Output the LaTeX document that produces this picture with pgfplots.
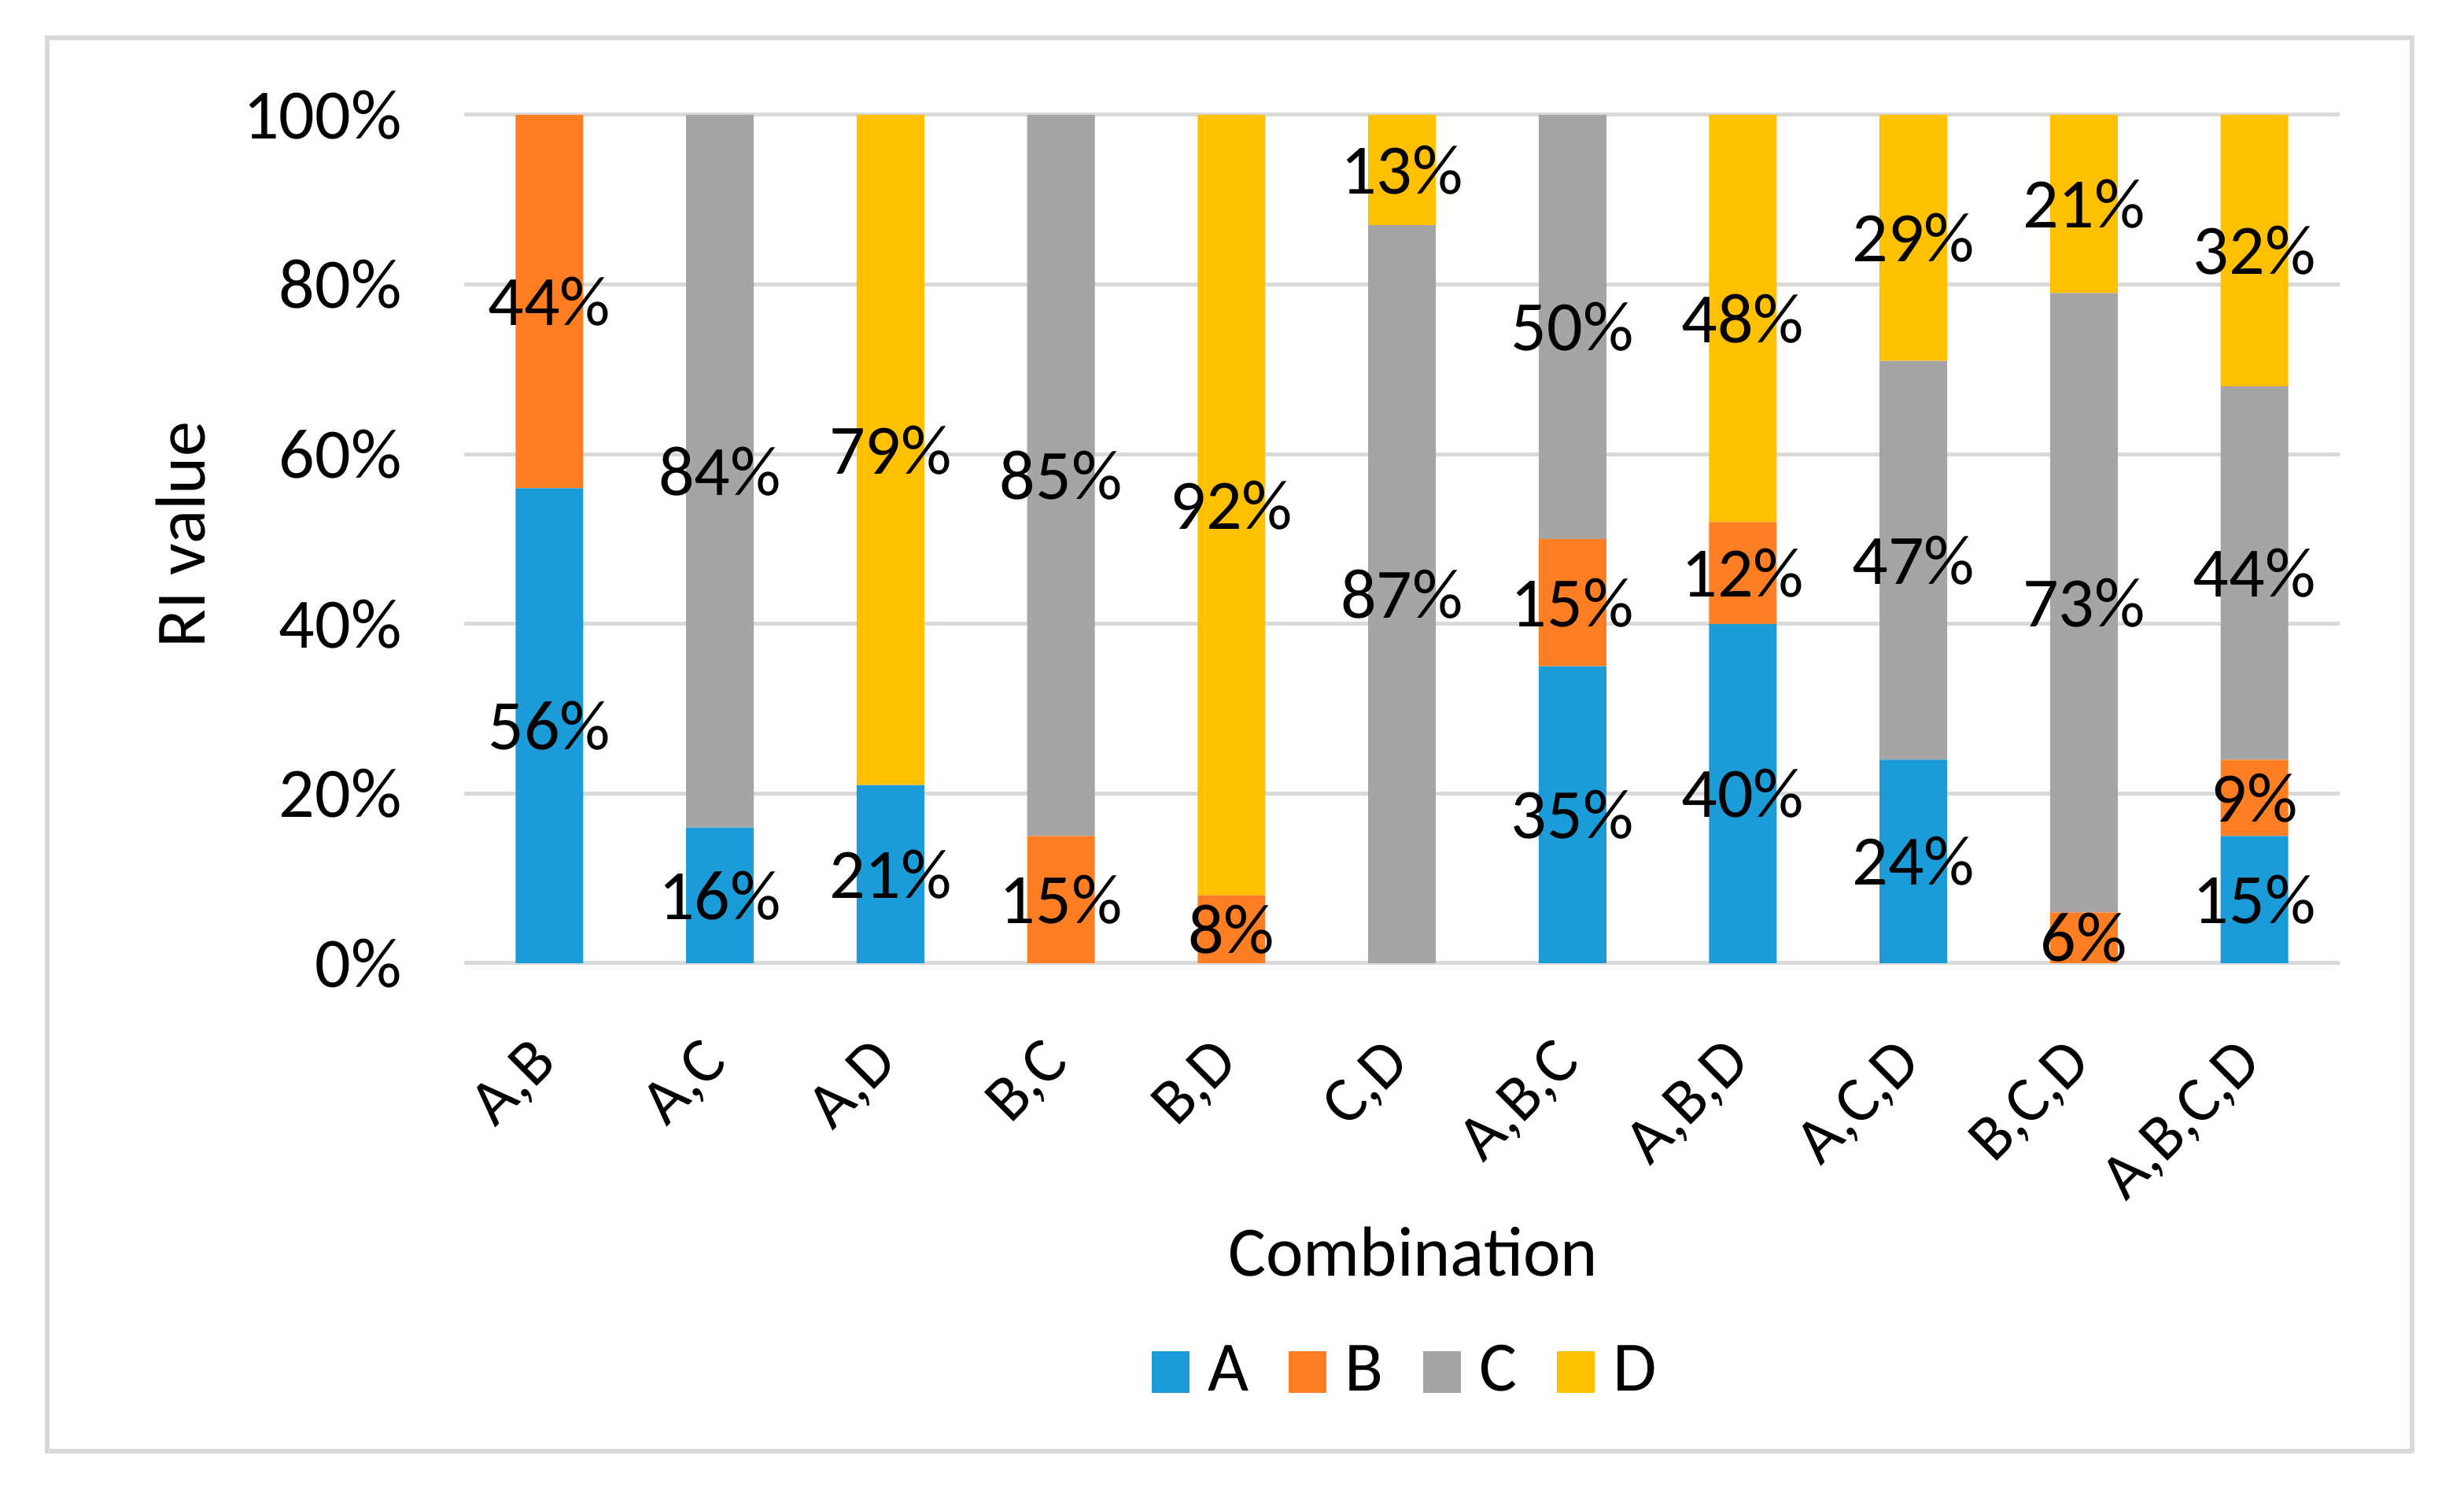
\documentclass[border=0pt]{standalone}
\usepackage{fontspec}
\setmainfont{Carlito}
\usepackage{pgfplots}
\pgfplotsset{compat=1.18}
\definecolor{serA}{HTML}{1B9CD8}
\definecolor{serB}{HTML}{FD7E23}
\definecolor{serC}{HTML}{A5A5A5}
\definecolor{serD}{HTML}{FFC000}
\definecolor{gridgray}{HTML}{D9D9D9}
\newcommand{\chartfont}{\fontsize{13.5}{16}\selectfont}
\begin{document}
\begin{tikzpicture}
\useasboundingbox (-88.5pt,-101.55pt) rectangle (381.3pt,183.6pt);
\draw[gridgray, line width=1pt] (-79.5pt,-93pt) rectangle (371.4pt,176.4pt);
\begin{axis}[
    at={(0pt,0pt)}, anchor=south west,
    scale only axis, width=357.6pt, height=161.7pt,
    ybar stacked, bar width=12.9pt,
    enlargelimits=false,
    xmin=-0.5, xmax=10.5, ymin=0, ymax=100,
    xtick={0,1,2,3,4,5,6,7,8,9,10},
    xticklabels={{A,B},{A,C},{A,D},{B,C},{B,D},{C,D},{A,B,C},{A,B,D},{A,C,D},{B,C,D},{A,B,C,D}},
    ytick={0,20,40,60,80,100},
    yticklabel={\pgfmathprintnumber{\tick}\%},
    /pgf/number format/assume math mode=true,
    axis line style={draw=none},
    tick style={draw=none},
    ymajorgrids, grid style={gridgray, line width=0.75pt},
    tick label style={font=\chartfont},
    label style={font=\chartfont},
    yticklabel style={anchor=east, xshift=-8.4pt},
    xticklabel style={font=\fontsize{12.3}{14}\selectfont, inner sep=0pt,
        xshift=-3.9pt, yshift=-13.5pt, rotate=45, anchor=north east},
    ylabel={RI value},
    ylabel style={at={(axis description cs:-0.151,0.505)}, anchor=center},
    xlabel={Combination},
    xlabel style={at={(axis description cs:0.506,-0.34)}, anchor=center},
    legend columns=4,
    legend style={at={(0.504,-0.482)}, anchor=center, draw=none, font=\chartfont,
        /tikz/every even column/.append style={column sep=5.6pt}},
    legend image code/.code={\fill[#1] (0pt,-3.95pt) rectangle (7.2pt,3.95pt); \path (8.7pt,0pt);},
    ]
    \addplot[fill=serA, draw=none] coordinates {
        (0,56) (1,16) (2,21) (3,0) (4,0) (5,0) (6,35) (7,40) (8,24) (9,0) (10,15) };
    \addlegendentry{A}
    \addplot[fill=serB, draw=none] coordinates {
        (0,44) (1,0) (2,0) (3,15) (4,8) (5,0) (6,15) (7,12) (8,0) (9,6) (10,9) };
    \addlegendentry{B}
    \addplot[fill=serC, draw=none] coordinates {
        (0,0) (1,84) (2,0) (3,85) (4,0) (5,87) (6,50) (7,0) (8,47) (9,73) (10,44) };
    \addlegendentry{C}
    \addplot[fill=serD, draw=none] coordinates {
        (0,0) (1,0) (2,79) (3,0) (4,92) (5,13) (6,0) (7,48) (8,29) (9,21) (10,32) };
    \addlegendentry{D}
\end{axis}
% data labels, centred in each segment
\begin{axis}[
    at={(0pt,0pt)}, anchor=south west,
    scale only axis, width=357.6pt, height=161.7pt,
    enlargelimits=false,
    xmin=-0.5, xmax=10.5, ymin=0, ymax=100,
    hide axis,
    point meta=explicit,
    nodes near coords={\pgfmathprintnumber[assume math mode=true]{\pgfplotspointmeta}\%},
    every node near coord/.append style={anchor=center, font=\chartfont, inner sep=0pt},
    ]
    \addplot[draw=none, mark=none] table[x=x, y=y, meta=v] {
        x y v
        0 28 56
        0 78 44
        1 8 16
        1 58 84
        2 10.5 21
        2 60.5 79
        3 7.5 15
        3 57.5 85
        4 4 8
        4 54 92
        5 43.5 87
        5 93.5 13
        6 17.5 35
        6 42.5 15
        6 75 50
        7 20 40
        7 46 12
        7 76 48
        8 12 24
        8 47.5 47
        8 85.5 29
        9 3 6
        9 42.5 73
        9 89.5 21
        10 7.5 15
        10 19.5 9
        10 46 44
        10 84 32
    };
\end{axis}
\end{tikzpicture}
\end{document}
